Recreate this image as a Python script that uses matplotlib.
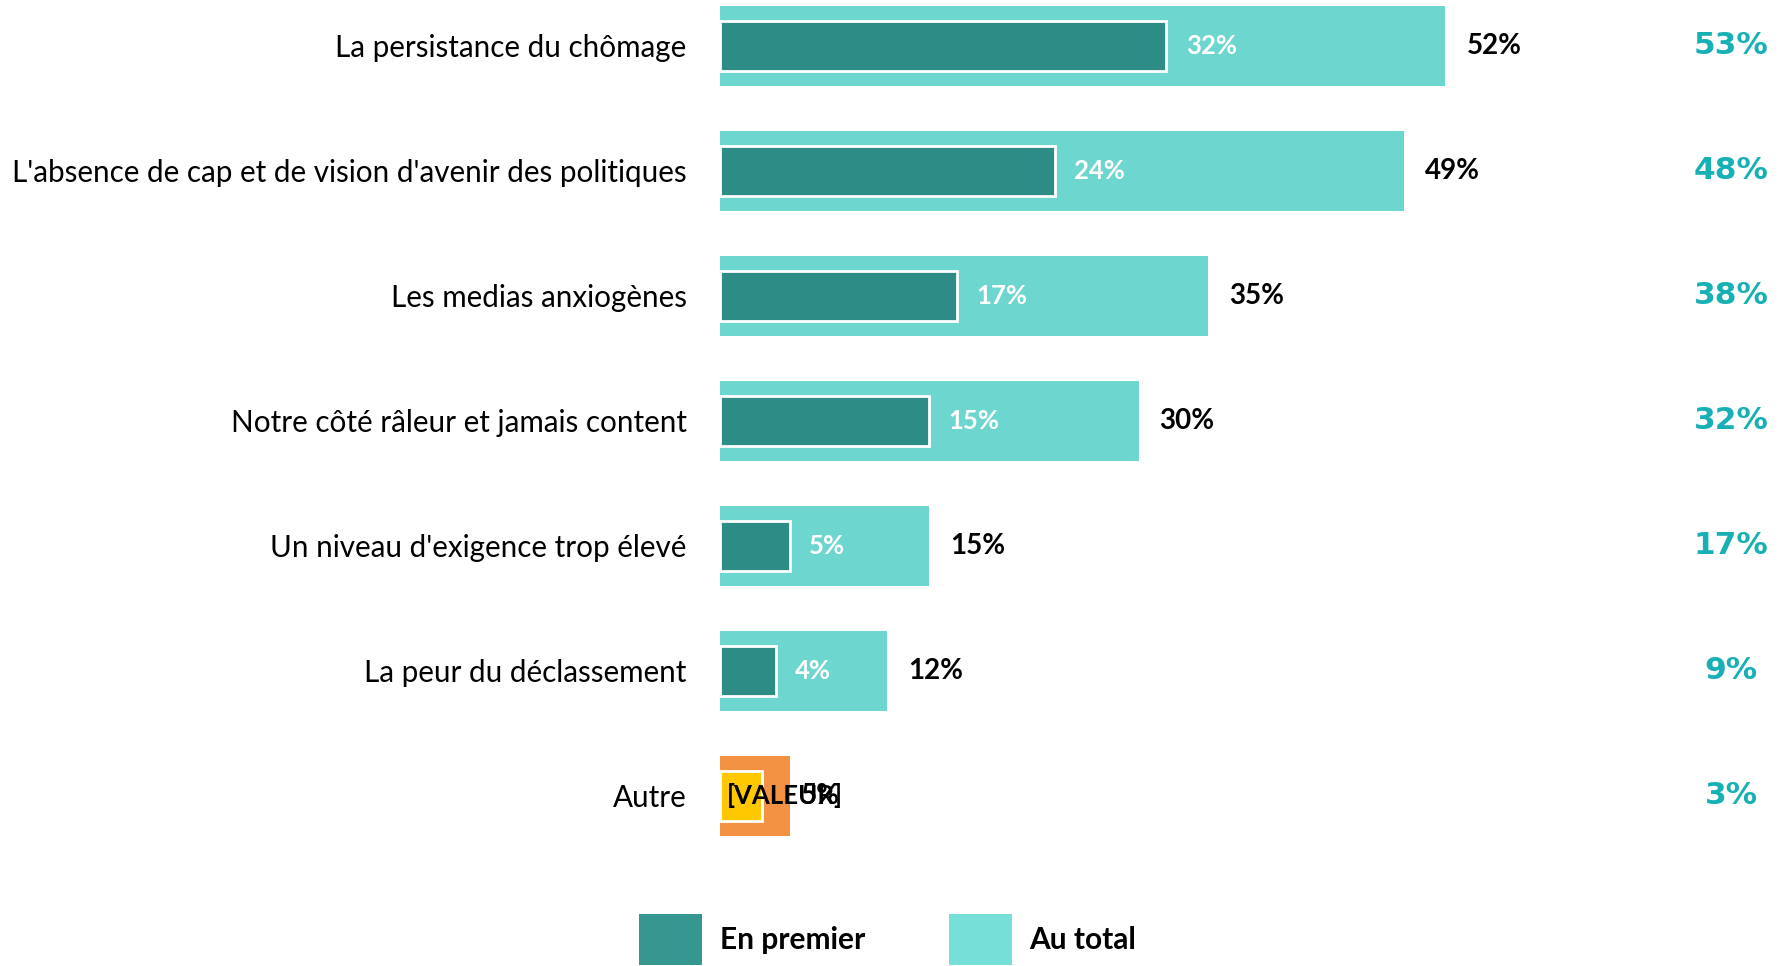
import numpy as np
import matplotlib.pyplot as plt
from matplotlib.patches import Patch

# data
categories = [
    "La persistance du chômage",
    "L'absence de cap et de vision d'avenir des politiques",
    "Les medias anxiogènes",
    "Notre côté râleur et jamais content",
    "Un niveau d'exigence trop élevé",
    "La peur du déclassement",
    "Autre",
]
en_premier = [32, 24, 17, 15, 5, 4, 3]
au_total = [52, 49, 35, 30, 15, 12, 5]
previous = [53, 48, 38, 32, 17, 9, 3]

DARK = "#2D8C85"
LIGHT = "#6DD6CE"
ORANGE = "#F39242"
YELLOW = "#FFC800"
TEAL_TXT = "#17B0B5"

W, H, DPI = 1790, 966, 100
fig = plt.figure(figsize=(W / DPI, H / DPI), dpi=DPI)

# layout in pixels: x=0% at 720px, 13.95px per %, rows every 125px from 45.7px
x0, pxper = 720, 13.95
y0, step = 45.7, 125.0
ax = fig.add_axes([x0 / W, 0, 1 - x0 / W, 1])
ax.set_xlim(0, (W - x0) / pxper)
ax.set_ylim((H - y0) / step, -y0 / step)

ypos = np.arange(len(categories))
outer_colors = [LIGHT] * (len(categories) - 1) + [ORANGE]
inner_colors = [DARK] * (len(categories) - 1) + [YELLOW]

ax.barh(ypos, au_total, height=0.64, color=outer_colors, linewidth=0)
ax.barh(ypos, en_premier, height=0.4, color=inner_colors,
        edgecolor="white", linewidth=2)

lab_font = "Lato"
for i in range(len(categories)):
    if i < len(categories) - 1:
        ax.text(en_premier[i] + 1.4, ypos[i], f"{en_premier[i]}%",
                color="white", fontsize=18.5, fontweight="bold",
                family=lab_font, va="center", ha="left")
    else:
        ax.text(0.5, ypos[i], "[VALEUR]", color="black", fontsize=18.5,
                fontweight="bold", family=lab_font, va="center", ha="left")
    off = 1.5 if i < len(categories) - 1 else 0.8
    ax.text(au_total[i] + off, ypos[i], f"{au_total[i]}%",
            color="black", fontsize=20, fontweight="bold",
            family=lab_font, va="center", ha="left")
    ax.text(72.5, ypos[i], f"{previous[i]}%", color=TEAL_TXT,
            fontsize=22.5, fontweight="bold", family="DejaVu Sans",
            va="center", ha="center")

ax.set_yticks(ypos)
ax.set_yticklabels(categories, family=lab_font, fontsize=21.3)
ax.tick_params(axis="y", length=0, pad=24)
ax.set_xticks([])
for s in ax.spines.values():
    s.set_visible(False)

handles = [Patch(facecolor="#35978F", edgecolor="none", label="En premier"),
           Patch(facecolor="#76E0D8", edgecolor="none", label="Au total")]
fig.legend(handles=handles, loc="center", bbox_to_anchor=(0.496, 0.027),
           ncol=2, frameon=False, handlelength=2.1, handleheight=2.25,
           columnspacing=2.8, handletextpad=0.6, borderpad=0.1,
           prop={"family": lab_font, "weight": "bold", "size": 21.5})

fig.savefig("out.png", dpi=DPI)
